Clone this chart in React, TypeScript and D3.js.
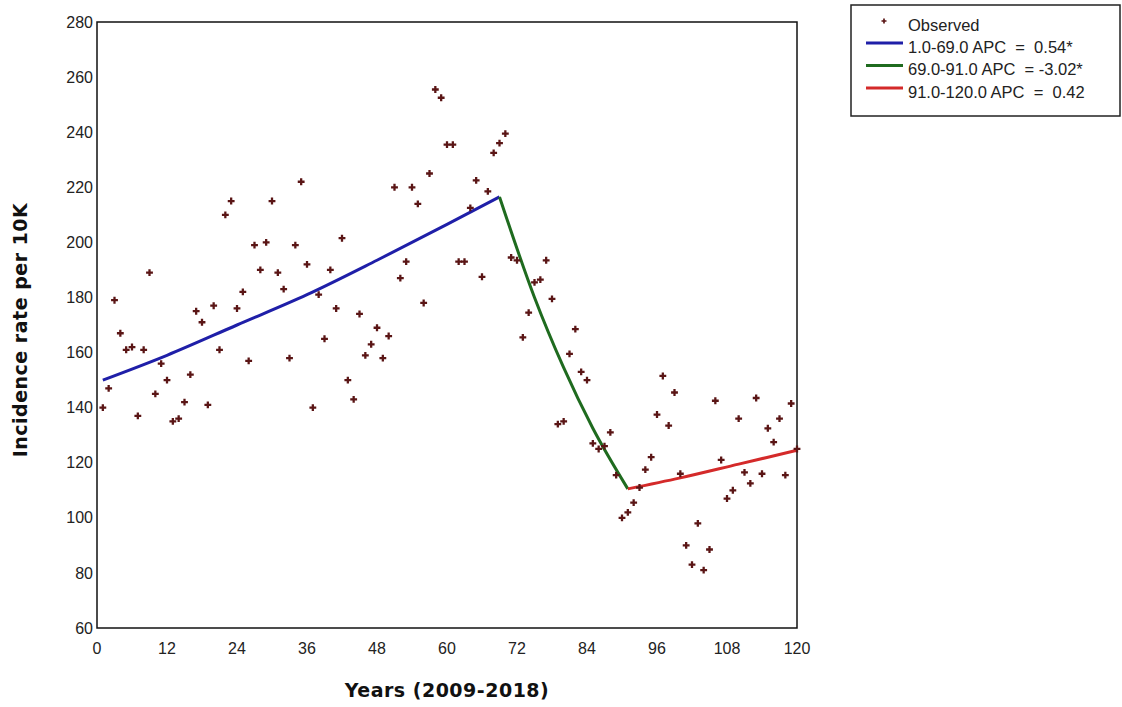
import React, { useEffect, useRef } from "react";
import * as d3 from "d3";

// observed incidence, one value per time point (1..120)
const observedRate = [
  140, 147, 179, 167, 161, 162, 137, 161, 189, 145,
  156, 150, 135, 136, 142, 152, 175, 171, 141, 177,
  161, 210, 215, 176, 182, 157, 199, 190, 200, 215,
  189, 183, 158, 199, 222, 192, 140, 181, 165, 190,
  176, 201.5, 150, 143, 174, 159, 163, 169, 158, 166,
  220, 187, 193, 220, 214, 178, 225, 255.5, 252.5, 235.5,
  235.5, 193, 193, 212.5, 222.5, 187.5, 218.5, 232.5, 236, 239.5,
  194.5, 193.5, 165.5, 174.5, 185.5, 186.5, 193.5, 179.5, 134, 135,
  159.5, 168.5, 153, 150, 127, 125, 126, 131, 115.5, 100,
  102, 105.5, 111, 117.5, 122, 137.5, 151.5, 133.5, 145.5, 116,
  90, 83, 98, 81, 88.5, 142.5, 121, 107, 110, 136,
  116.5, 112.5, 143.5, 116, 132.5, 127.5, 136, 115.5, 141.5, 125,
];

// fitted joinpoint segments
const blueX = [1, 12, 24, 36, 48, 60, 69];
const blueY = [150, 159, 170, 181, 193.5, 206.5, 216.5];
const greenX = [69, 75, 80, 85, 91];
const greenY = [216.5, 180, 154.5, 132.5, 110.5];
const redX = [91, 100, 110, 120];
const redY = [110.5, 114.5, 119.5, 124.5];

const segmentLabels = [
  "1.0-69.0 APC  =  0.54*",
  "69.0-91.0 APC  = -3.02*",
  "91.0-120.0 APC  =  0.42",
];
const segmentColors = ["#1f1fa8", "#1f6b1f", "#d42a2a"];

const xTicks = [0, 12, 24, 36, 48, 60, 72, 84, 96, 108, 120];
const yTicks = [60, 80, 100, 120, 140, 160, 180, 200, 220, 240, 260, 280];

const W = 1122;
const H = 707;

export default function App() {
  const ref = useRef<SVGSVGElement | null>(null);

  useEffect(() => {
    const svg = d3.select(ref.current);
    svg.selectAll("*").remove();

    const left = 97;
    const right = 797;
    const top = 22;
    const bottom = 628;

    const x = d3.scaleLinear().domain([0, 120]).range([left, right]);
    const y = d3.scaleLinear().domain([60, 280]).range([bottom, top]);

    const tickFont = "'Liberation Sans', Arial, sans-serif";
    const titleFont = "'DejaVu Sans', Verdana, sans-serif";

    // frame
    svg
      .append("rect")
      .attr("x", left)
      .attr("y", top)
      .attr("width", right - left)
      .attr("height", bottom - top)
      .attr("fill", "none")
      .attr("stroke", "#111")
      .attr("stroke-width", 1.5);

    // x labels, no tick marks
    svg
      .append("g")
      .selectAll("text")
      .data(xTicks)
      .enter()
      .append("text")
      .attr("x", (d) => x(d))
      .attr("y", 654)
      .attr("text-anchor", "middle")
      .attr("font-family", tickFont)
      .attr("font-size", 16)
      .attr("fill", "#222")
      .text((d) => d);

    svg
      .append("g")
      .selectAll("text")
      .data(yTicks)
      .enter()
      .append("text")
      .attr("x", left - 4)
      .attr("y", (d) => y(d))
      .attr("dy", "0.35em")
      .attr("text-anchor", "end")
      .attr("font-family", tickFont)
      .attr("font-size", 16)
      .attr("fill", "#222")
      .text((d) => d);

    // axis titles
    svg
      .append("text")
      .attr("x", 447)
      .attr("y", 697)
      .attr("text-anchor", "middle")
      .attr("font-family", titleFont)
      .attr("font-weight", "bold")
      .attr("font-size", 19)
      .attr("letter-spacing", 0.5)
      .attr("fill", "#111")
      .text("Years (2009-2018)");

    svg
      .append("text")
      .attr("transform", "translate(27," + 330 + ") rotate(-90)")
      .attr("text-anchor", "middle")
      .attr("font-family", titleFont)
      .attr("font-weight", "bold")
      .attr("font-size", 19)
      .attr("letter-spacing", 0.5)
      .attr("fill", "#111")
      .text("Incidence rate per 10K");

    // fitted segments
    const line = d3
      .line<[number, number]>()
      .x((d) => x(d[0]))
      .y((d) => y(d[1]))
      .curve(d3.curveMonotoneX);

    const segments: [number, number][][] = [
      blueX.map((v, i) => [v, blueY[i]]),
      greenX.map((v, i) => [v, greenY[i]]),
      redX.map((v, i) => [v, redY[i]]),
    ];

    segments.forEach((seg, i) => {
      svg
        .append("path")
        .datum(seg)
        .attr("fill", "none")
        .attr("stroke", segmentColors[i])
        .attr("stroke-width", 3)
        .attr("d", line);
    });

    // observed points
    const cross = d3.symbol().type(d3.symbolCross).size(26);
    svg
      .append("g")
      .selectAll("path")
      .data(observedRate)
      .enter()
      .append("path")
      .attr("d", cross)
      .attr("transform", (d, i) => "translate(" + x(i + 1) + "," + y(d) + ")")
      .attr("fill", "#5a1515");

    // legend
    const lg = svg.append("g");
    lg.append("rect")
      .attr("x", 851)
      .attr("y", 5)
      .attr("width", 269)
      .attr("height", 111)
      .attr("fill", "#fff")
      .attr("stroke", "#222")
      .attr("stroke-width", 1.5);

    lg.append("path")
      .attr("d", d3.symbol().type(d3.symbolCross).size(14))
      .attr("transform", "translate(884,21)")
      .attr("fill", "#5a1515");
    lg.append("text")
      .attr("x", 908)
      .attr("y", 25)
      .attr("dy", "0.35em")
      .attr("font-family", tickFont)
      .attr("font-size", 16.5)
      .attr("fill", "#222")
      .text("Observed");

    segmentLabels.forEach((label, i) => {
      const ly = 47 + i * 22.5;
      lg.append("line")
        .attr("x1", 866)
        .attr("x2", 903)
        .attr("y1", ly - 4)
        .attr("y2", ly - 4)
        .attr("stroke", segmentColors[i])
        .attr("stroke-width", 3);
      lg.append("text")
        .attr("x", 908)
        .attr("y", ly)
        .attr("dy", "0.35em")
        .attr("font-family", tickFont)
        .attr("font-size", 16.5)
        .attr("fill", "#222")
        .attr("xml:space", "preserve")
        .style("white-space", "pre")
        .text(label);
    });
  }, []);

  return (
    <svg
      ref={ref}
      width={W}
      height={H}
      style={{ position: "absolute", left: 0, top: 0, background: "#fff" }}
    ></svg>
  );
}
